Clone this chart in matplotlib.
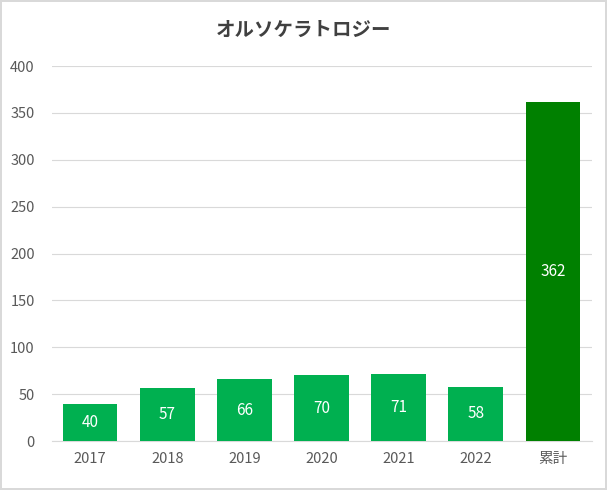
import matplotlib
matplotlib.use("Agg")
import matplotlib.pyplot as plt

categories = ["2017", "2018", "2019", "2020", "2021", "2022", "累計"]
values = [40, 57, 66, 70, 71, 58, 362]
yticks = [0, 50, 100, 150, 200, 250, 300, 350, 400]
title = "オルソケラトロジー"

plt.rcParams["font.family"] = ["Noto Sans CJK JP"]
fig = plt.figure(figsize=(6.07, 4.90), dpi=100)
fig.patch.set_edgecolor("#d9d9d9")
fig.patch.set_linewidth(1.5)
ax = fig.add_axes([51.5/607, 1-441/490, 540/607, 375/490])
colors = ["#00B050"] * 6 + ["#008000"]
x = range(len(categories))
bars = ax.bar(x, values, width=0.71, color=colors, zorder=3)
for xi, v in zip(x, values):
    ax.text(xi, v/2, str(v), ha="center", va="center", color="white", fontsize=11, zorder=4)
ax.set_xlim(-0.5, len(categories)-0.5)
ax.set_ylim(0, 400)
ax.set_yticks(yticks)
ax.set_xticks(list(x))
ax.set_xticklabels(categories)
ax.grid(axis="y", color="#d9d9d9", linewidth=0.8, zorder=0)
for s in ["top", "right", "left"]:
    ax.spines[s].set_visible(False)
ax.spines["bottom"].set_color("#d9d9d9")
ax.tick_params(length=0, colors="#595959", labelsize=10.5)
ax.tick_params(axis="y", pad=12)
ax.tick_params(axis="x", pad=8)
fig.text(0.5, 1-30/490, title, ha="center", va="center", fontsize=14, fontweight="bold", color="#404040")
fig.savefig("out.png", dpi=100)
